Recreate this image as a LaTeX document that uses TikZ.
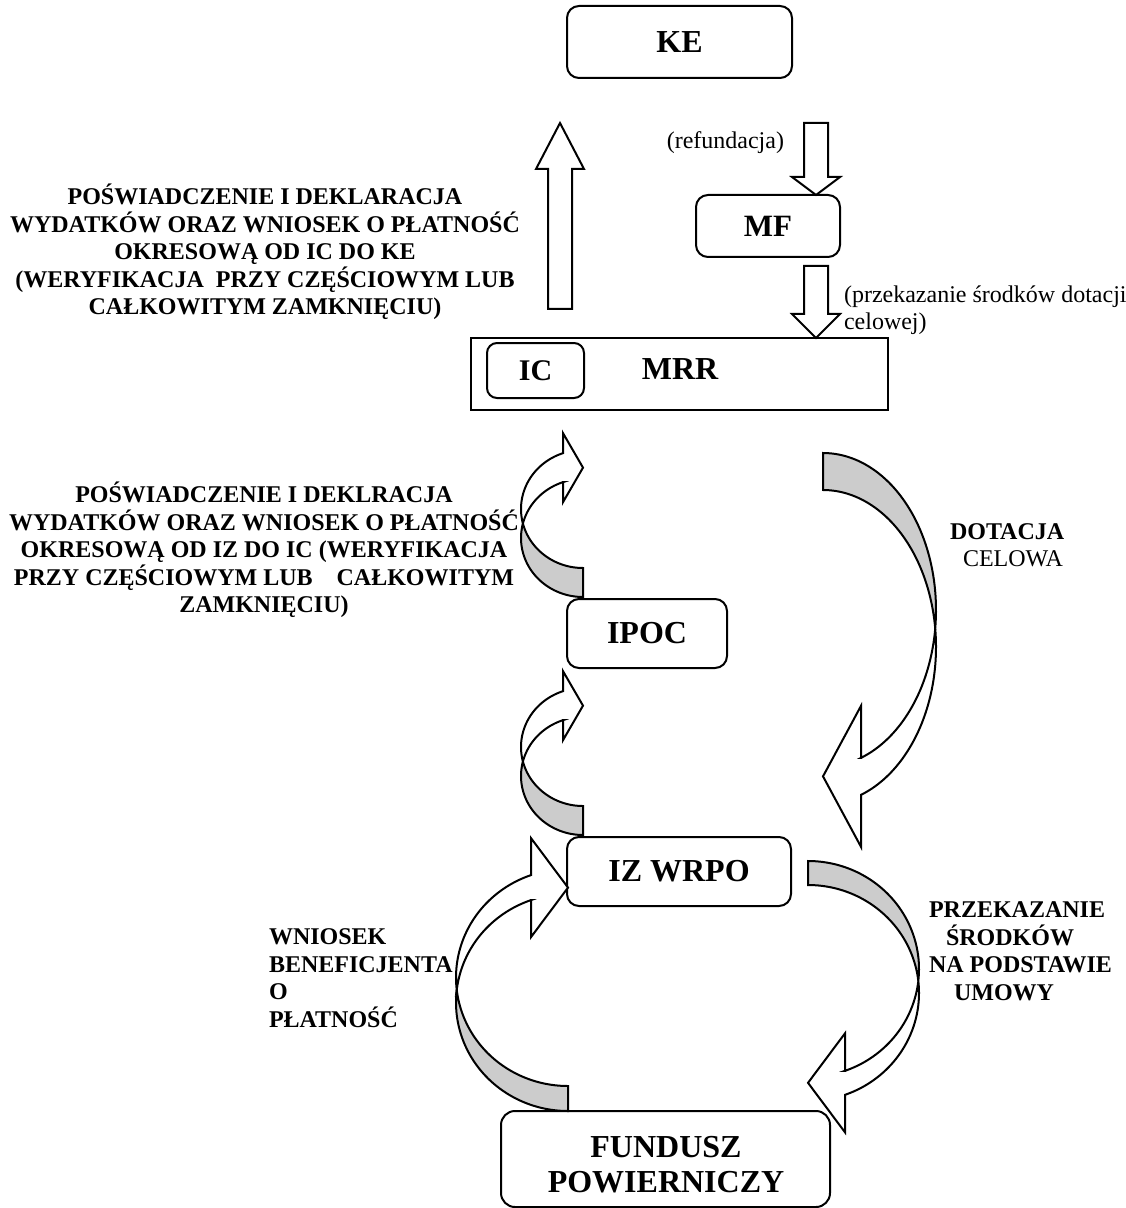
\documentclass[tikz,border=0pt]{standalone}
\usepackage{fontspec}
\setmainfont{Liberation Serif}
\definecolor{bandgray}{RGB}{204,204,204}

% Twisted curved band arrow, drawn in a local frame:
% tail at the origin (outer corner), band sweeps up and to the left,
% head at the top pointing in +x.
% #1 horizontal radius, #2 vertical radius, #3 band thickness,
% #4 head length, #5 head width
\newcommand{\twistarrow}[5]{%
  \pgfmathsetmacro{\tca}{asin(#3/(2*#2))}%
  \pgfmathsetmacro{\tcone}{180+\tca}%
  \pgfmathsetmacro{\tctwo}{180-\tca}%
  \pgfmathsetmacro{\thb}{180+acos(#4/#1)}%
  \pgfmathsetmacro{\tsb}{sin(\thb)}%
  \pgfmathsetmacro{\tyo}{-#2-#3+#2*\tsb}%
  \pgfmathsetmacro{\tyi}{-#2+#2*\tsb}%
  \pgfmathsetmacro{\tdh}{(#5-#3)/2}%
  \pgfmathsetmacro{\thtop}{\tyo-\tdh}%
  \pgfmathsetmacro{\thbot}{\tyi+\tdh}%
  \pgfmathsetmacro{\ttip}{(\tyo+\tyi)/2}%
  % shaded back part next to the tail
  \filldraw[fill=bandgray]
    plot[domain=90:\tcone, samples=50] ({#1*cos(\x)},{-#2+#2*sin(\x)})
    -- plot[domain=\tctwo:90, samples=50] ({#1*cos(\x)},{-#2-#3+#2*sin(\x)})
    -- cycle;
  % white front part with the head
  \filldraw[fill=white]
    plot[domain=\tctwo:\thb, samples=50] ({#1*cos(\x)},{-#2-#3+#2*sin(\x)})
    -- (-#4,\thtop) -- (0,\ttip) -- (-#4,\thbot) -- (-#4,\tyi)
    -- plot[domain=\thb:\tcone, samples=50] ({#1*cos(\x)},{-#2+#2*sin(\x)})
    -- cycle;
}

\begin{document}
\begin{tikzpicture}[x=0.5pt,y=-0.5pt, line width=1pt, line join=miter,
  box/.style={draw, rounded corners=6pt, inner sep=0pt, align=center,
    font=\bfseries\fontsize{16}{17.5}\selectfont},
  plainbox/.style={draw, inner sep=0pt},
  bigtext/.style={inner sep=0pt, align=center, font=\bfseries\fontsize{16}{17.5}\selectfont},
  note/.style={inner sep=0pt, font=\fontsize{12}{13.75}\selectfont},
  boldnote/.style={inner sep=0pt, font=\bfseries\fontsize{12}{13.75}\selectfont},
  blockarrow/.style={draw, fill=white}]
\useasboundingbox (0,0) rectangle (1125,1208);

% boxes
\node[box, minimum width=112.5pt, minimum height=36pt] (ke) at (679.5,42) {KE};
\node[box, minimum width=72pt, minimum height=31pt,
      font=\bfseries\fontsize{15.5}{17}\selectfont] (mf) at (768,226) {MF};
\node[plainbox, minimum width=208.5pt, minimum height=36pt] (mrr) at (679.5,374) {};
\node[bigtext] (mrrlabel) at (680,369) {MRR};
\node[box, rounded corners=5pt, minimum width=48.5pt, minimum height=27.5pt,
      font=\bfseries\fontsize{15}{17}\selectfont] (ic) at (535.5,370.5) {IC};
\node[box, minimum width=80pt, minimum height=34.5pt] (ipoc) at (647,633.5) {IPOC};
\node[box, minimum width=112pt, minimum height=34.5pt] (iz) at (679,871.5) {IZ WRPO};
\node[box, rounded corners=7pt, minimum width=164.5pt, minimum height=48pt] (fp) at (665.5,1159) {};
\node[bigtext] (fplabel) at (666,1165) {FUNDUSZ\\POWIERNICZY};

% labels
\node[boldnote, align=center] (certke) at (265,252)
  {POŚWIADCZENIE I DEKLARACJA\\
   WYDATKÓW ORAZ WNIOSEK O PŁATNOŚĆ\\
   OKRESOWĄ OD IC DO KE\\
   (WERYFIKACJA\ \ PRZY CZĘŚCIOWYM LUB\\
   CAŁKOWITYM ZAMKNIĘCIU)};
\node[boldnote, align=center] (certic) at (264,550)
  {POŚWIADCZENIE I DEKLRACJA\\
   WYDATKÓW ORAZ WNIOSEK O PŁATNOŚĆ\\
   OKRESOWĄ OD IZ DO IC (WERYFIKACJA\\
   PRZY CZĘŚCIOWYM LUB\ \ \ \ CAŁKOWITYM\\
   ZAMKNIĘCIU)};
\node[note, anchor=east] (refund) at (785,143) {(refundacja)};
\node[note, anchor=west, align=left] (transfer) at (843,310)
  {(przekazanie środków dotacji\\celowej)};
\node[note, anchor=west, align=left] (dotacja) at (949,545)
  {\textbf{DOTACJA}\\\hspace*{6.5pt}CELOWA};
\node[boldnote, anchor=west, align=left] (umowa) at (928,951)
  {PRZEKAZANIE\\\hspace*{8.5pt}ŚRODKÓW\\NA PODSTAWIE\\\hspace*{12.5pt}UMOWY};
\node[boldnote, anchor=west, align=left] (wniosek) at (268,978)
  {WNIOSEK\\BENEFICJENTA\\O\\PŁATNOŚĆ};

% straight block arrows
\draw[blockarrow] (548,309) -- (548,169) -- (536,169) -- (560,123) -- (584,169)
  -- (572,169) -- (572,309) -- cycle;
\draw[blockarrow] (804,123) -- (804,177) -- (792,177) -- (816,195) -- (840,177)
  -- (828,177) -- (828,123) -- cycle;
\draw[blockarrow] (804,266) -- (804,314) -- (792,314) -- (816,338) -- (840,314)
  -- (828,314) -- (828,266) -- cycle;

% curved band arrows
\begin{scope}[shift={(583,597)}]
  \twistarrow{62}{59}{29}{20}{69}
\end{scope}
\begin{scope}[shift={(583,835)}]
  \twistarrow{62}{59}{29}{20}{69}
\end{scope}
\begin{scope}[shift={(568,1111)}]
  \twistarrow{112}{108.5}{25}{37}{99}
\end{scope}
\begin{scope}[shift={(823,453)}, rotate=180]
  \twistarrow{113}{157}{37}{38}{141}
\end{scope}
\begin{scope}[shift={(808,861)}, rotate=180]
  \twistarrow{111}{108}{24}{37}{99}
\end{scope}
\end{tikzpicture}
\end{document}
